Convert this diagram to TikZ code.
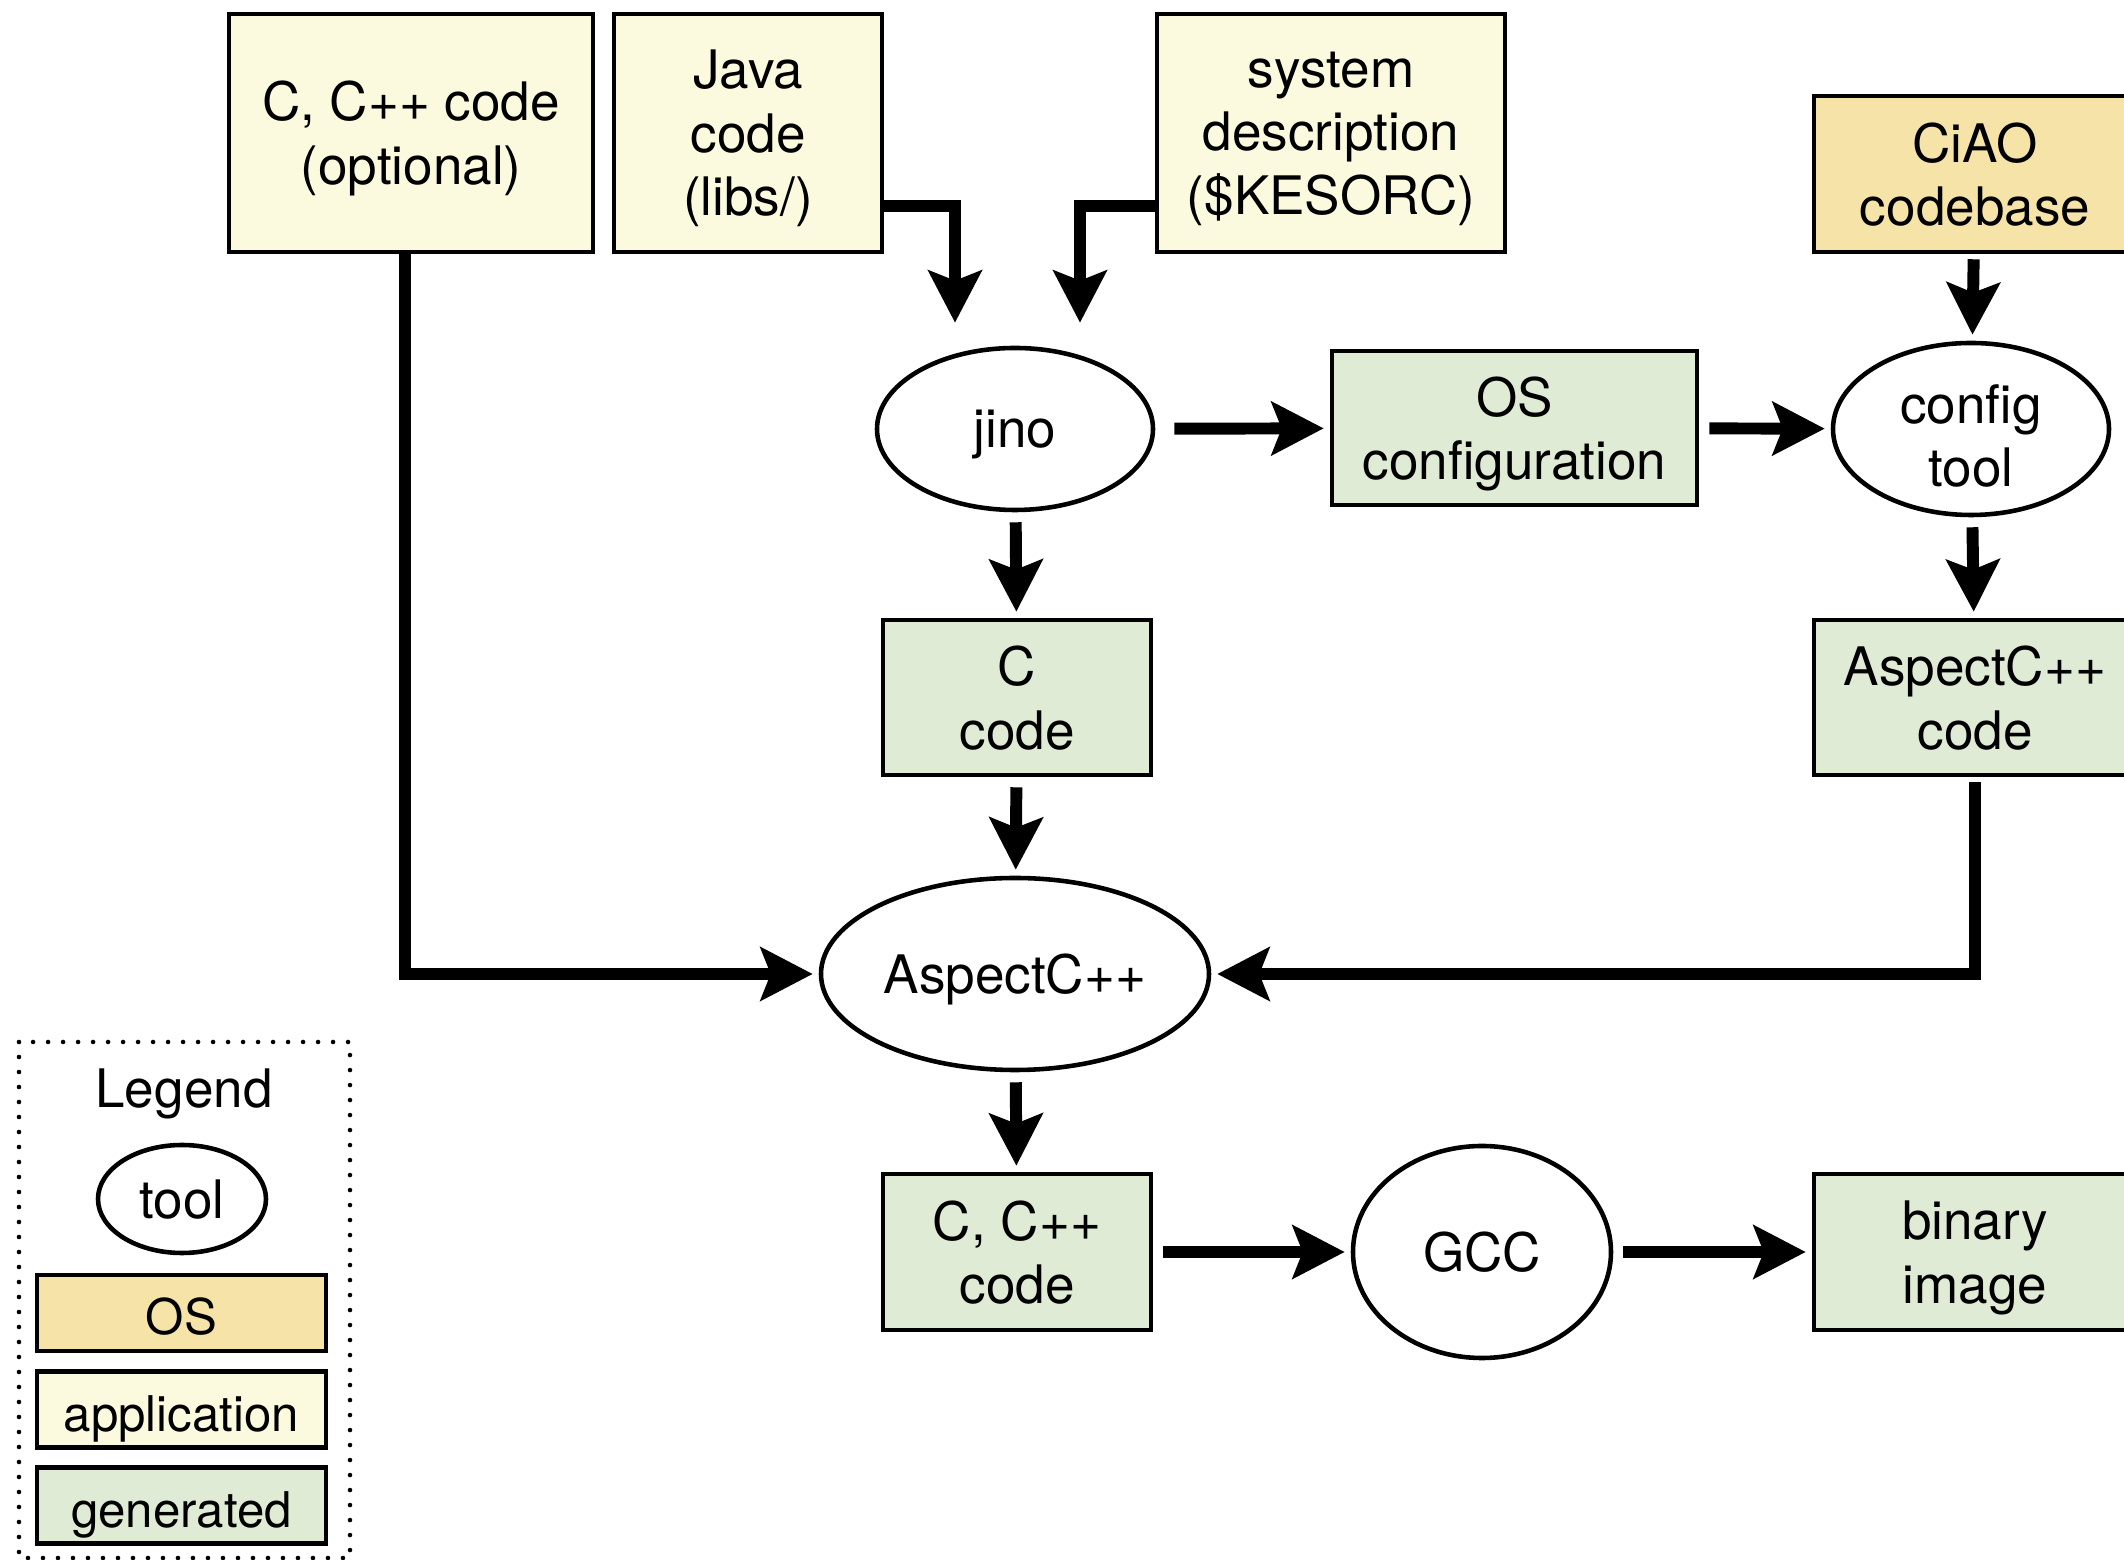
\documentclass[tikz,border=0pt]{standalone}
\usepackage{fontspec}
\setmainfont{TeX Gyre Heros}
\usetikzlibrary{arrows.meta,shapes.geometric}
\definecolor{appcol}{RGB}{252,250,222}
\definecolor{oscol}{RGB}{245,227,168}
\definecolor{gencol}{RGB}{223,235,213}
\begin{document}
\begin{tikzpicture}[
  txt/.style={font=\fontsize{15.1}{18.1}\selectfont, align=center, inner sep=0pt, text depth=0pt},
  rbox/.style={txt, draw, line width=1.3pt, rectangle},
  appbox/.style={rbox, fill=appcol},
  osbox/.style={rbox, fill=oscol},
  genbox/.style={rbox, fill=gencol},
  toolnode/.style={txt, draw, line width=1.3pt, ellipse},
  legbox/.style={minimum width=2.89cm, minimum height=0.76cm, font=\fontsize{14}{17}\selectfont, text height=12.3pt},
  flow/.style={line width=3.4pt, -{Stealth[length=0.52cm,width=0.53cm,inset=0.1cm]}, shorten <=0.1cm, shorten >=0.06cm}
]
\useasboundingbox (0,0) rectangle (21.24,-15.6);
\node[appbox, minimum width=3.64cm, minimum height=2.38cm] (copt) at (4.11,-1.33) {C, C++ code\\(optional)};
\node[appbox, minimum width=2.68cm, minimum height=2.38cm] (java) at (7.48,-1.33) {Java\\code\\(libs/)};
\node[appbox, minimum width=3.48cm, minimum height=2.38cm] (sysd) at (13.31,-1.33) {system\\description\\(\$KESORC)};
\node[osbox, minimum width=3.22cm, minimum height=1.56cm] (ciao) at (19.75,-1.74) {CiAO\\codebase};
\node[toolnode, minimum width=2.76cm, minimum height=1.62cm] (jino) at (10.15,-4.29) {jino};
\node[genbox, minimum width=3.65cm, minimum height=1.54cm] (osconf) at (15.145,-4.28) {OS\\configuration};
\node[toolnode, minimum width=2.76cm, minimum height=1.72cm, text height=33pt] (cfgtool) at (19.71,-4.29) {config\\tool};
\node[genbox, minimum width=2.68cm, minimum height=1.55cm] (ccode) at (10.17,-6.975) {C\\code};
\node[genbox, minimum width=3.22cm, minimum height=1.55cm] (aspcode) at (19.75,-6.975) {AspectC++\\code};
\node[toolnode, minimum width=3.88cm, minimum height=1.92cm] (aspect) at (10.15,-9.74) {AspectC++};
\node[genbox, minimum width=2.68cm, minimum height=1.56cm] (cppcode) at (10.17,-12.52) {C, C++\\code};
\node[toolnode, minimum width=2.58cm, minimum height=2.12cm] (gcc) at (14.82,-12.52) {GCC};
\node[genbox, minimum width=3.22cm, minimum height=1.56cm] (binary) at (19.75,-12.52) {binary\\image};
\draw[flow, shorten <=0pt] ([xshift=-0.06cm]copt.south) |- (aspect.west);
\draw[flow, shorten <=0pt] ([yshift=-0.73cm]java.east) -| ([xshift=-0.6cm,yshift=0.17cm]jino.north);
\draw[flow, shorten <=0pt] ([yshift=-0.73cm]sysd.west) -| ([xshift=0.65cm,yshift=0.17cm]jino.north);
\draw[flow, shorten <=0.19cm] (jino) -- (osconf);
\draw[flow] (osconf) -- (cfgtool);
\draw[flow, shorten <=0.05cm] (ciao) -- (cfgtool);
\draw[flow] (cfgtool) -- (aspcode);
\draw[flow] (jino) -- (ccode);
\draw[flow] (ccode) -- (aspect);
\draw[flow, shorten <=0.05cm] (aspcode.south) |- (aspect.east);
\draw[flow] (aspect) -- (cppcode);
\draw[flow] (cppcode) -- (gcc);
\draw[flow] (gcc) -- (binary);
\draw[line width=1.3pt, line cap=round, dash pattern=on 0pt off 0.15cm] (0.19,-10.42) rectangle (3.50,-15.58);
\node[txt] (legend) at (1.84,-10.88) {Legend};
\node[toolnode, minimum width=1.68cm, minimum height=1.08cm] (ltool) at (1.82,-11.99) {tool};
\node[osbox, legbox] (los) at (1.815,-13.13) {OS};
\node[appbox, legbox] (lapp) at (1.815,-14.095) {application};
\node[genbox, legbox] (lgen) at (1.815,-15.055) {generated};
\end{tikzpicture}
\end{document}
